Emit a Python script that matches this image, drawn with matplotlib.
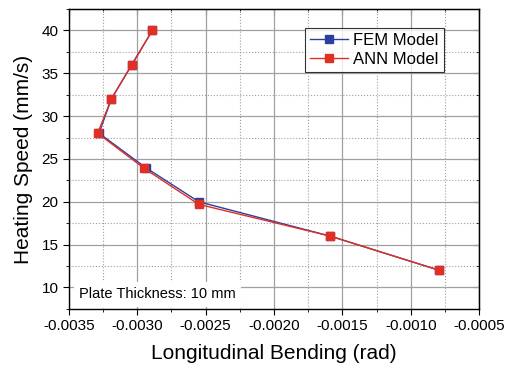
import matplotlib.pyplot as plt
from matplotlib.ticker import MultipleLocator, FormatStrFormatter

plt.rcParams['font.family'] = ['Liberation Sans', 'DejaVu Sans']

# dados
velocidade = [40, 36, 32, 28, 24, 20, 16, 12]
flexao_fem = [-0.00289, -0.00304, -0.00319, -0.00328, -0.00294, -0.00255, -0.00159, -0.00079]
vel_ann = [40, 36, 32, 28, 23.9, 19.7, 16, 12]
flexao_ann = [-0.00289, -0.00304, -0.00319, -0.00329, -0.00295, -0.00255, -0.00159, -0.00079]

fig = plt.figure(figsize=(5.07, 3.74), dpi=100)
ax = fig.add_axes([0.136, 0.174, 0.809, 0.802])

ax.plot(flexao_fem, velocidade, color='#2b3f9e', lw=1, marker='s', ms=5.8,
        markerfacecolor='#2b3f9e', markeredgecolor='#2b3f9e', label='FEM Model')
ax.plot(flexao_ann, vel_ann, color='#e03025', lw=1, marker='s', ms=5.8,
        markerfacecolor='#e03025', markeredgecolor='#e03025', label='ANN Model')

ax.set_xlim(-0.0035, -0.0005)
ax.set_ylim(7.5, 42.5)
ax.xaxis.set_major_locator(MultipleLocator(0.0005))
ax.xaxis.set_minor_locator(MultipleLocator(0.00025))
ax.xaxis.set_major_formatter(FormatStrFormatter('%.4f'))
ax.yaxis.set_major_locator(MultipleLocator(5))
ax.yaxis.set_minor_locator(MultipleLocator(2.5))

ax.grid(True, which='major', color='#a0a0a0', lw=0.9, ls='-')
ax.grid(True, which='minor', color='#a0a0a0', lw=0.8, ls=':')
ax.set_axisbelow(True)

ax.tick_params(which='both', direction='out', labelsize=11, top=False, right=False)
ax.tick_params(which='major', length=4)
ax.tick_params(which='minor', length=2.5)
ax2 = ax.secondary_xaxis('top')
ax2.xaxis.set_major_locator(MultipleLocator(0.0005))
ax2.xaxis.set_minor_locator(MultipleLocator(0.00025))
ax2.tick_params(which='both', direction='in', labeltop=False)
ax2.tick_params(which='major', length=4)
ax2.tick_params(which='minor', length=2.5)
ax3 = ax.secondary_yaxis('right')
ax3.yaxis.set_major_locator(MultipleLocator(5))
ax3.yaxis.set_minor_locator(MultipleLocator(2.5))
ax3.tick_params(which='both', direction='in', labelright=False)
ax3.tick_params(which='major', length=4)
ax3.tick_params(which='minor', length=2.5)

for s in ax.spines.values():
    s.set_linewidth(1)

ax.set_xlabel('Longitudinal Bending (rad)', fontsize=15, labelpad=8)
ax.set_ylabel('Heating Speed (mm/s)', fontsize=15, labelpad=6)

leg = ax.legend(loc='upper right', bbox_to_anchor=(0.914, 0.938), fontsize=12,
                frameon=True, fancybox=False, edgecolor='black', borderpad=0.3,
                handlelength=2.3, handletextpad=0.3, labelspacing=0.25,
                borderaxespad=0)
leg.get_frame().set_linewidth(0.8)

ax.text(0.025, 0.035, 'Plate Thickness: 10 mm', transform=ax.transAxes, fontsize=10.5,
        bbox=dict(facecolor='white', edgecolor='none', pad=4))

fig.savefig('out.png', dpi=100)
